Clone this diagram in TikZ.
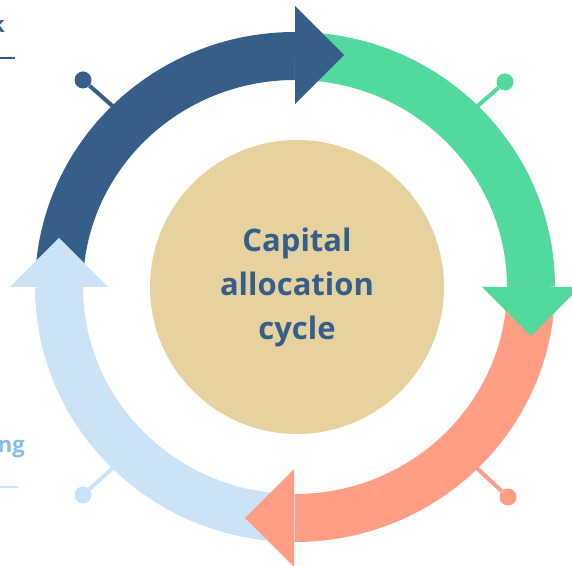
\documentclass[tikz,border=0pt]{standalone}
\usepackage{fontspec}
\setmainfont{Open Sans}
\usetikzlibrary{calc}

\definecolor{cycblue}{HTML}{355F88}
\definecolor{cycgreen}{HTML}{52D99E}
\definecolor{cycsalmon}{HTML}{FF9E85}
\definecolor{cyclight}{HTML}{CCE2F5}
\definecolor{cycsand}{HTML}{E6D29F}
\definecolor{cycsky}{HTML}{85BDEA}

\begin{document}
\begin{tikzpicture}[x=1pt, y=1pt,
    band/.style={line width=48pt},
    hub/.style={circle, fill=cycsand, minimum size=294pt, inner sep=0pt,
        align=center, text=cycblue, font=\bfseries\fontsize{31}{44}\selectfont},
    pin/.style={circle, inner sep=0pt, minimum size=17pt},
    stem/.style={line width=4pt},
    tag/.style={inner sep=0pt, font=\bfseries\fontsize{22}{26}\selectfont}
]
    \useasboundingbox (0,0) rectangle (572,565);
    \coordinate (o) at (295,278);

    % pins sticking out of the ring
    \node[pin, fill=cycblue] (p1) at (83,485) {};
    \node[pin, fill=cycgreen] (p2) at (505,483) {};
    \node[pin, fill=cycsalmon] (p3) at (508,68) {};
    \node[pin, fill=cyclight] (p4) at (83,70) {};
    \coordinate (r1) at ($(o)+(135:240)$);
    \coordinate (r2) at ($(o)+(45:240)$);
    \coordinate (r3) at ($(o)+(-45:240)$);
    \coordinate (r4) at ($(o)+(-135:240)$);
    \draw[stem, cycblue] (p1) -- (r1);
    \draw[stem, cycgreen] (p2) -- (r2);
    \draw[stem, cycsalmon] (p3) -- (r3);
    \draw[stem, cyclight] (p4) -- (r4);

    % ring bodies, clockwise
    \draw[band, cycblue] ($(o)+(180:236 and 231)$)
        arc[start angle=180, end angle=90, x radius=236, y radius=231];
    \draw[band, cycgreen] ($(o)+(90:236 and 231)$)
        arc[start angle=90, end angle=0, x radius=236, y radius=231];
    \draw[band, cycsalmon] ($(o)+(0:236 and 231)$)
        arc[start angle=0, end angle=-90, x radius=236, y radius=231];
    \draw[band, cyclight] ($(o)+(-90:236 and 231)$)
        arc[start angle=-90, end angle=-180, x radius=236, y radius=231];

    % arrow heads on top
    \fill[cycblue] (295,559) -- (344,510) -- (295,461) -- cycle;
    \fill[cycgreen] (580,278) -- (531,229) -- (482,278) -- cycle;
    \fill[cycsalmon] (294,96) -- (245,47) -- (294,-2) -- cycle;
    \fill[cyclight] (10,278) -- (59,327) -- (108,278) -- cycle;

    \node[hub] (hub) at (297,278) {Capital\\allocation\\cycle};

    % labels running in from the left
    \node[tag, text=cycblue, anchor=base east] (t1) at (5,532) {k};
    \coordinate (u1) at (0,507);
    \coordinate (v1) at (15,507);
    \draw[cycblue, line width=1.5pt] (u1) -- (v1);

    \node[tag, text=cycsky, anchor=base east] (t2) at (25,113) {ng};
    \coordinate (u2) at (0,78);
    \coordinate (v2) at (18,78);
    \draw[cyclight, line width=1.5pt] (u2) -- (v2);
\end{tikzpicture}
\end{document}
